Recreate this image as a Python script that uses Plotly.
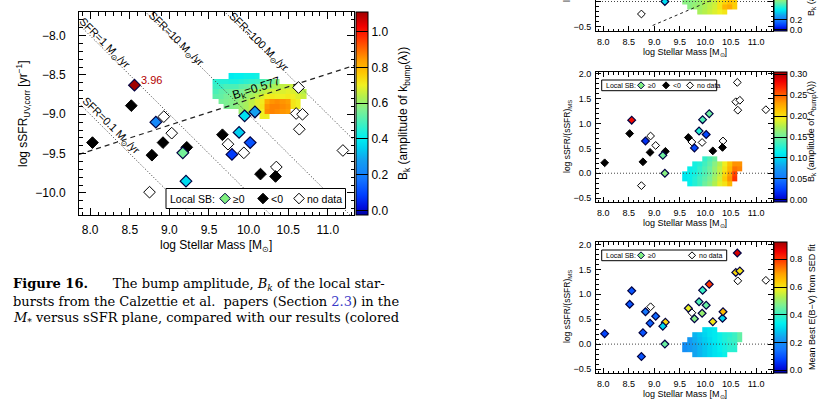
import math
import plotly.graph_objects as go

W, H = 827, 403
def px(x): return x / W
def py(y): return 1 - y / H

N = None
FONT = "Liberation Sans"

# ---------------- data: local starbursts ----------------
mass = [8.56, 8.52, 8.03, 8.83, 8.93, 9.03, 8.92, 8.78, 9.22, 9.17, 9.21, 8.75, 9.67, 9.74,
        9.88, 9.79, 9.94, 10.02, 9.95, 10.08, 10.15, 10.34, 10.35, 10.63, 10.60, 10.68, 10.64, 11.19]
ssfr = [-8.63, -8.89, -9.36, -9.10, -9.03, -9.24, -9.36, -9.52, -9.42, -9.49, -9.85, -9.99, -9.26, -9.38,
        -9.23, -9.51, -9.49, -9.36, -9.02, -8.97, -9.76, -9.79, -9.67, -8.66, -8.99, -9.00, -9.19, -9.46]
sb_class = ["pos", "neg", "neg", "pos", "none", "none", "neg", "neg", "neg", "pos", "pos", "none", "neg", "none",
            "pos", "pos", "none", "pos", "pos", "pos", "neg", "neg", "none", "none", "none", "none", "none", "none"]
bk_local = [3.96, N, N, 0.22, N, N, N, N, N, 0.55, 0.37, N, N, N,
            0.35, 0.08, N, 0.12, 0.38, 0.28, N, N, N, N, N, N, N, N]
rel_ssfr = [1.07, 0.80, 0.21, 0.65, 0.75, 0.56, 0.42, 0.23, 0.44, 0.36, 0.00, -0.25, 0.72, 0.63,
            0.85, 0.51, 0.62, 0.78, 1.08, 1.20, 0.45, 0.52, 0.65, 1.83, 1.44, 1.47, 1.27, 1.28]
abump_local = [0.28, N, N, 0.02, N, N, N, N, N, 0.15, 0.16, N, N, N,
               0.125, 0.03, N, 0.03, 0.14, 0.15, N, N, N, N, N, N, N, N]
ebv_local = [0.10, 0.10, 0.08, 0.15, N, 0.13, 0.12, 0.10, 0.62, 0.30, 0.45, 0.10, 0.58, N,
             0.42, 0.48, 0.50, 0.45, 0.40, 0.80, 0.60, 0.30, 0.66, 0.88, 0.62, 0.60, N, N]

# ---------------- data: our results (binned maps) ----------------
mass_grid_main = [9.58, 9.65, 9.71, 9.78, 9.84, 9.91, 9.97, 10.04, 10.10, 10.17, 10.23, 10.30,
                  10.36, 10.43, 10.49, 10.56, 10.62, 10.69]
ssfr_grid_main = [-8.51, -8.58, -8.64, -8.71, -8.77, -8.84, -8.90, -8.97, -9.03]
bk_grid_main = [
    [N, N, N, 0.40, 0.41, 0.41, 0.42, 0.42, 0.43, N, N, N, N, N, N, N, N, N],
    [0.46, 0.45, 0.45, 0.44, 0.44, 0.45, 0.46, 0.47, 0.48, 0.50, 0.52, 0.55, 0.58, N, N, N, N, N],
    [0.48, 0.48, 0.50, 0.50, 0.50, 0.52, 0.53, 0.55, 0.56, 0.58, 0.60, 0.62, 0.63, 0.65, 0.66, 0.66, N, N],
    [0.50, 0.52, 0.53, 0.54, 0.55, 0.56, 0.58, 0.60, 0.62, 0.64, 0.66, 0.67, 0.68, 0.68, 0.69, 0.68, 0.66, 0.64],
    [0.52, 0.53, 0.55, 0.56, 0.57, 0.58, 0.60, 0.62, 0.65, 0.68, 0.70, 0.71, 0.70, 0.70, 0.71, 0.70, 0.68, 0.66],
    [N, 0.55, 0.56, 0.57, 0.58, 0.60, 0.62, 0.65, 0.68, 0.71, 0.82, 0.85, 0.86, 0.85, 0.84, 0.72, 0.70, N],
    [N, N, 0.56, 0.57, 0.58, 0.60, 0.62, 0.65, 0.68, 0.72, 0.85, 0.87, 0.87, 0.86, 0.85, 0.72, 0.70, N],
    [N, N, N, N, N, 0.60, 0.62, 0.65, 0.68, 0.70, 0.86, 0.87, 0.86, 0.85, 0.84, N, N, N],
    [N, N, N, N, N, N, N, N, N, 0.70, 0.70, N, N, N, N, N, N, N],
]
mass_grid_rp = [9.60, 9.70, 9.80, 9.89, 9.99, 10.09, 10.19, 10.29, 10.38, 10.48, 10.58, 10.68]
rel_grid_rp = [0.29, 0.19, 0.09, -0.01, -0.11, -0.21]
abump_grid = [
    [N, N, N, N, 0.13, 0.14, 0.15, N, N, N, N, N],
    [N, N, 0.12, 0.125, 0.135, 0.145, 0.16, 0.175, 0.195, 0.215, 0.235, 0.235],
    [N, 0.115, 0.12, 0.13, 0.14, 0.15, 0.165, 0.18, 0.20, 0.22, 0.245, 0.24],
    [0.11, 0.115, 0.12, 0.13, 0.14, 0.15, 0.165, 0.18, 0.205, 0.23, 0.26, N],
    [0.11, 0.115, 0.125, 0.135, 0.145, 0.155, 0.17, 0.185, 0.21, 0.235, 0.265, N],
    [N, 0.115, 0.125, 0.135, 0.15, 0.16, 0.175, 0.19, 0.20, 0.22, N, N],
]
ebv_grid = [
    [N, N, N, N, 0.31, 0.32, 0.33, N, N, N, N, N],
    [N, N, 0.26, 0.28, 0.30, 0.32, 0.33, 0.35, 0.37, 0.38, 0.40, 0.44],
    [N, 0.22, 0.25, 0.27, 0.29, 0.31, 0.33, 0.35, 0.37, 0.39, 0.40, 0.44],
    [0.20, 0.22, 0.24, 0.26, 0.28, 0.30, 0.32, 0.34, 0.36, 0.38, 0.39, N],
    [0.20, 0.22, 0.24, 0.26, 0.28, 0.30, 0.32, 0.34, 0.36, 0.38, 0.38, N],
    [N, N, 0.24, 0.26, 0.28, 0.30, 0.32, 0.33, 0.35, N, N, N],
]
rel_grid_top = [-0.01, -0.11, -0.21]
bk_grid_top = [
    [0.58, 0.58, 0.59, 0.60, 0.63, 0.64, 0.66, 0.72, 0.75, 0.78, 0.76, N],
    [N, 0.58, 0.60, 0.61, 0.63, 0.65, 0.67, 0.72, 0.80, 0.82, 0.76, N],
    [N, N, N, 0.62, 0.64, 0.66, 0.68, 0.70, 0.72, N, N, N],
]

# reference lines
sfr_levels = [0.1, 1, 10, 100]
sfr_text_x = [8.26, 8.17, 9.08, 10.12]
sfr_text_y = [-9.15, -8.10, -8.04, -8.085]
line_x = [7.86, 11.33]
bk_fit_x = [7.86, 11.33]
bk_fit_y = [-9.51, -8.38]
bk_fit_value = 0.577
top_fit_x = [8.97, 10.30]
top_fit_y = [-0.48, 0.10]

mass_ticks = [8.0, 8.5, 9.0, 9.5, 10.0, 10.5, 11.0]
ssfr_ticks = [-10.0, -9.5, -9.0, -8.5, -8.0]
rel_ticks = [-0.5, 0.0, 0.5, 1.0, 1.5, 2.0]
bk_cbar_ticks = [0.0, 0.2, 0.4, 0.6, 0.8, 1.0]
abump_cbar_ticks = [0.0, 0.05, 0.10, 0.15, 0.20, 0.25, 0.30]
ebv_cbar_ticks = [0.0, 0.2, 0.4, 0.6, 0.8]
top_cbar_ticks = [0.0, 0.2]

cscale = [[0.00, "#0000a0"], [0.04, "#0010e0"], [0.10, "#0040ff"], [0.18, "#1478ff"], [0.27, "#14a0f0"],
          [0.33, "#00d0f0"], [0.38, "#00f0f0"], [0.45, "#40f0c0"], [0.52, "#80f090"], [0.58, "#b0f050"],
          [0.64, "#f0f020"], [0.70, "#ffc800"], [0.76, "#ffa000"], [0.82, "#ff6400"], [0.88, "#ff2800"],
          [0.93, "#f00000"], [1.00, "#a00000"]]

fig = go.Figure()

def add_points(xs, ys, cls, vals, xa, ya, cax, size):
    idx_neg = [i for i, c in enumerate(cls) if c == "neg"]
    idx_none = [i for i, c in enumerate(cls) if c == "none"]
    idx_pos = [i for i, c in enumerate(cls) if c == "pos"]
    fig.add_trace(go.Scatter(x=[xs[i] for i in idx_none], y=[ys[i] for i in idx_none], mode="markers",
                             marker=dict(symbol="diamond", size=size, color="white", line=dict(color="black", width=1)),
                             xaxis=xa, yaxis=ya))
    fig.add_trace(go.Scatter(x=[xs[i] for i in idx_neg], y=[ys[i] for i in idx_neg], mode="markers",
                             marker=dict(symbol="diamond", size=size, color="black", line=dict(color="black", width=1)),
                             xaxis=xa, yaxis=ya))
    fig.add_trace(go.Scatter(x=[xs[i] for i in idx_pos], y=[ys[i] for i in idx_pos], mode="markers",
                             marker=dict(symbol="diamond", size=size, color=[vals[i] for i in idx_pos],
                                         coloraxis=cax, line=dict(color="#000040", width=1.2)),
                             xaxis=xa, yaxis=ya))

# ---- main panel ----
fig.add_trace(go.Heatmap(x=mass_grid_main, y=ssfr_grid_main, z=bk_grid_main, coloraxis="coloraxis",
                         xaxis="x", yaxis="y"))
for s in sfr_levels:
    fig.add_trace(go.Scatter(x=line_x, y=[math.log10(s) - x for x in line_x], mode="lines",
                             line=dict(color="#333333", width=1, dash="1px,2px"), xaxis="x", yaxis="y"))
fig.add_trace(go.Scatter(x=bk_fit_x, y=bk_fit_y, mode="lines",
                         line=dict(color="#222222", width=1.2, dash="5px,4px"), xaxis="x", yaxis="y"))
add_points(mass, ssfr, sb_class, bk_local, "x", "y", "coloraxis", 9)

# ---- top-right panel (partly visible) ----
fig.add_trace(go.Heatmap(x=mass_grid_rp, y=rel_grid_top, z=bk_grid_top, coloraxis="coloraxis2",
                         xaxis="x2", yaxis="y2"))
fig.add_trace(go.Scatter(x=line_x, y=[0, 0], mode="lines", line=dict(color="#444", width=1, dash="1px,2px"),
                         xaxis="x2", yaxis="y2"))
fig.add_trace(go.Scatter(x=top_fit_x, y=top_fit_y, mode="lines",
                         line=dict(color="#222", width=1, dash="3px,3px"), xaxis="x2", yaxis="y2"))
add_points(mass, rel_ssfr, sb_class, bk_local, "x2", "y2", "coloraxis2", 6)

# ---- middle-right panel ----
fig.add_trace(go.Heatmap(x=mass_grid_rp, y=rel_grid_rp, z=abump_grid, coloraxis="coloraxis3",
                         xaxis="x3", yaxis="y3"))
fig.add_trace(go.Scatter(x=line_x, y=[0, 0], mode="lines", line=dict(color="#444", width=1, dash="1px,2px"),
                         xaxis="x3", yaxis="y3"))
add_points(mass, rel_ssfr, sb_class, abump_local, "x3", "y3", "coloraxis3", 6)

# ---- bottom-right panel ----
fig.add_trace(go.Heatmap(x=mass_grid_rp, y=rel_grid_rp, z=ebv_grid, coloraxis="coloraxis4",
                         xaxis="x4", yaxis="y4"))
fig.add_trace(go.Scatter(x=line_x, y=[0, 0], mode="lines", line=dict(color="#444", width=1, dash="1px,2px"),
                         xaxis="x4", yaxis="y4"))
ebv_class = ["pos" if v is not None else "none" for v in ebv_local]
add_points(mass, rel_ssfr, ebv_class, ebv_local, "x4", "y4", "coloraxis4", 6)

# ---------------- axes ----------------
def axis(domain, rng, tickvals, fmt, size, mlen, dminor, anchor, mirror="allticks", standoff=4):
    return dict(domain=domain, range=rng, anchor=anchor, tickvals=tickvals,
                ticktext=[fmt.format(v).replace("-", "\u2212") for v in tickvals],
                showline=True, linecolor="black", linewidth=1, mirror=mirror,
                ticks="inside", ticklen=mlen, tickcolor="black", tickwidth=1,
                showgrid=False, zeroline=False, tickfont=dict(size=size, family=FONT, color="black"),
                ticklabelstandoff=standoff,
                minor=dict(ticks="inside", ticklen=mlen / 2, dtick=dminor, tick0=0, tickcolor="black",
                           showgrid=False))

xd_main = [px(79), px(354)]
xd_rp = [px(596), px(773)]
layout_axes = dict(
    xaxis=axis(xd_main, [7.86, 11.33], mass_ticks, "{:.1f}", 12, 7, 0.1, "y", standoff=4),
    yaxis=axis([py(215), py(12)], [-10.28, -7.70], ssfr_ticks, "{:.1f}", 12, 7, 0.1, "x", standoff=10),
    xaxis2=axis(xd_rp, [7.86, 11.33], mass_ticks, "{:.1f}", 9, 5, 0.1, "y2", mirror=False, standoff=2),
    yaxis2=axis([py(31), 1.0], [-0.59, 0.03], rel_ticks, "{:.1f}", 9, 5, 0.1, "x2", standoff=2),
    xaxis3=axis(xd_rp, [7.86, 11.33], mass_ticks, "{:.1f}", 9, 5, 0.1, "y3", standoff=2),
    yaxis3=axis([py(202), py(72)], [-0.58, 2.04], rel_ticks, "{:.1f}", 9, 5, 0.1, "x3", standoff=2),
    xaxis4=axis(xd_rp, [7.86, 11.33], mass_ticks, "{:.1f}", 9, 5, 0.1, "y4", standoff=2),
    yaxis4=axis([py(373), py(242)], [-0.58, 2.05], rel_ticks, "{:.1f}", 9, 5, 0.1, "x4", standoff=2),
)

def cbar(x, ybot, length, thick, ticks, fmt, size):
    return dict(x=px(x), xanchor="left", y=py(ybot), yanchor="bottom", len=length, lenmode="pixels",
                thickness=thick, thicknessmode="pixels", outlinewidth=1, outlinecolor="black",
                ticks="inside", ticklen=thick, tickcolor="black", tickwidth=1,
                tickvals=ticks, ticktext=[fmt.format(v) for v in ticks],
                tickfont=dict(size=size, family=FONT, color="black"), xpad=0, ypad=0)

coloraxes = dict(
    coloraxis=dict(colorscale=cscale, cmin=-0.025, cmax=1.11,
                   colorbar=cbar(356, 215, 203, 12, bk_cbar_ticks, "{:.1f}", 12)),
    coloraxis2=dict(colorscale=cscale, cmin=-0.025, cmax=1.11,
                    colorbar=cbar(774, 31, 57, 13, top_cbar_ticks, "{:.1f}", 9)),
    coloraxis3=dict(colorscale=cscale, cmin=-0.005, cmax=0.305,
                    colorbar=cbar(774, 202, 130, 13, abump_cbar_ticks, "{:.2f}", 9)),
    coloraxis4=dict(colorscale=cscale, cmin=-0.02, cmax=0.925,
                    colorbar=cbar(774, 373, 131, 13, ebv_cbar_ticks, "{:.1f}", 9)),
)

# ---------------- annotations & shapes ----------------
ann = []
shapes = []

def A(text, x, y, size, angle=0, xanchor="center", yanchor="middle", color="black", family=FONT):
    ann.append(dict(text=text, x=px(x), y=py(y), xref="paper", yref="paper", showarrow=False,
                    font=dict(size=size, color=color, family=family), textangle=angle,
                    xanchor=xanchor, yanchor=yanchor))

def diamond(cx, cy, r, fill, edge):
    shapes.append(dict(type="path", xref="paper", yref="paper", layer="above",
                       path=f"M {px(cx)},{py(cy - r)} L {px(cx + r)},{py(cy)} L {px(cx)},{py(cy + r)} L {px(cx - r)},{py(cy)} Z",
                       fillcolor=fill, line=dict(color=edge, width=1)))

def legend_box(x0, y0, x1, y1, size, r, items):
    shapes.append(dict(type="rect", xref="paper", yref="paper", layer="above",
                       x0=px(x0), x1=px(x1), y0=py(y1), y1=py(y0), fillcolor="white",
                       line=dict(color="black", width=1)))
    cy = (y0 + y1) / 2
    A("Local SB:", x0 + 2, cy, size, xanchor="left")
    for cx, kind, text in items:
        fill, edge = {"pos": ("#80f080", "#000040"), "neg": ("black", "black"), "none": ("white", "black")}[kind]
        diamond(cx, cy, r, fill, edge)
        A(text, cx + r + 1, cy, size, xanchor="left")

legend_box(166, 188.5, 345.5, 208.5, 10.5, 5.3,
           [(225, "pos", "\u22650"), (263, "neg", "<0"), (299, "none", "no data")])
legend_box(601.7, 80, 716.7, 90.7, 7, 3.5,
           [(641, "pos", "\u22650"), (666, "neg", "<0"), (690, "none", "no data")])
legend_box(601.7, 250, 726.7, 260.7, 7, 3.5,
           [(641, "pos", "\u22650"), (692, "none", "no data")])

# main panel texts
A("log Stellar Mass [M<sub>\u2299</sub>]", 216, 246, 12)
A("log sSFR<sub>UV,corr</sub> [yr<sup>\u22121</sup>]", 23, 114, 12, angle=-90)
A("B<sub>k</sub> (amplitude of k<sub>bump</sub>(\u03bb))", 404, 114, 12, angle=-90)
for s, tx, ty in zip(sfr_levels, sfr_text_x, sfr_text_y):
    ann.append(dict(text=f"SFR={s:g} M<sub>\u2299</sub>/yr", x=tx, y=ty, xref="x", yref="y", showarrow=False,
                    textangle=44.7, font=dict(size=11, family=FONT, color="black")))
ann.append(dict(text=f"B<sub>k</sub>={bk_fit_value:.3f}", x=10.10, y=-8.68, xref="x", yref="y", showarrow=False,
                textangle=-17.8, font=dict(size=12, family=FONT, color="black")))
for m, s, v in zip(mass, ssfr, bk_local):
    if v is not None and v > 1.11:
        ann.append(dict(text=f"{v:.2f}", x=m, y=s, xref="x", yref="y", showarrow=False, xanchor="left",
                        yanchor="middle", xshift=5, yshift=5, font=dict(size=11, family=FONT, color="#b40000")))

# right panels texts
xt = "log Stellar Mass [M<sub>\u2299</sub>]"
yt = "log sSFR/(sSFR)<sub>MS</sub>"
A(xt, 685, 52, 9)
A(yt, 567, -34, 8.5, angle=-90)
A("B<sub>k</sub> (amplitude of k<sub>bump</sub>(\u03bb))", 812, -34, 9, angle=-90)
A(xt, 685, 223, 9)
A(yt, 567, 137, 8.5, angle=-90)
A("B<sub>k</sub> (amplitude of A<sub>bump</sub>(\u03bb))", 812, 132, 9, angle=-90)
A(xt, 685, 394, 9)
A(yt, 567, 307, 8.5, angle=-90)
A("Mean Best E(B\u2212V) from SED fit", 812, 307, 9, angle=-90)

# caption
CAP = "DejaVu Serif"
A("<b>Figure 16.</b>      The bump amplitude, <i>B<sub>k</sub></i> of the local star-", 11, 284, 13,
  xanchor="left", family=CAP)
A("bursts from the Calzettie et al.  papers (Section <span style='color:#3a3ac8'>2.3</span>) in the", 11, 301, 13,
  xanchor="left", family=CAP)
A("<i>M</i><sub>*</sub> versus sSFR plane, compared with our results (colored", 11, 318, 13,
  xanchor="left", family=CAP)

fig.update_layout(width=W, height=H, margin=dict(l=0, r=0, t=0, b=0, autoexpand=False), showlegend=False,
                  plot_bgcolor="white", paper_bgcolor="white",
                  font=dict(family=FONT, color="black"),
                  annotations=ann, shapes=shapes, **layout_axes, **coloraxes)
fig.write_html("out.html", config={"displayModeBar": False},
               post_script="document.body.style.margin='0px';document.body.style.padding='0px';"
                           "document.documentElement.style.overflow='hidden';")
